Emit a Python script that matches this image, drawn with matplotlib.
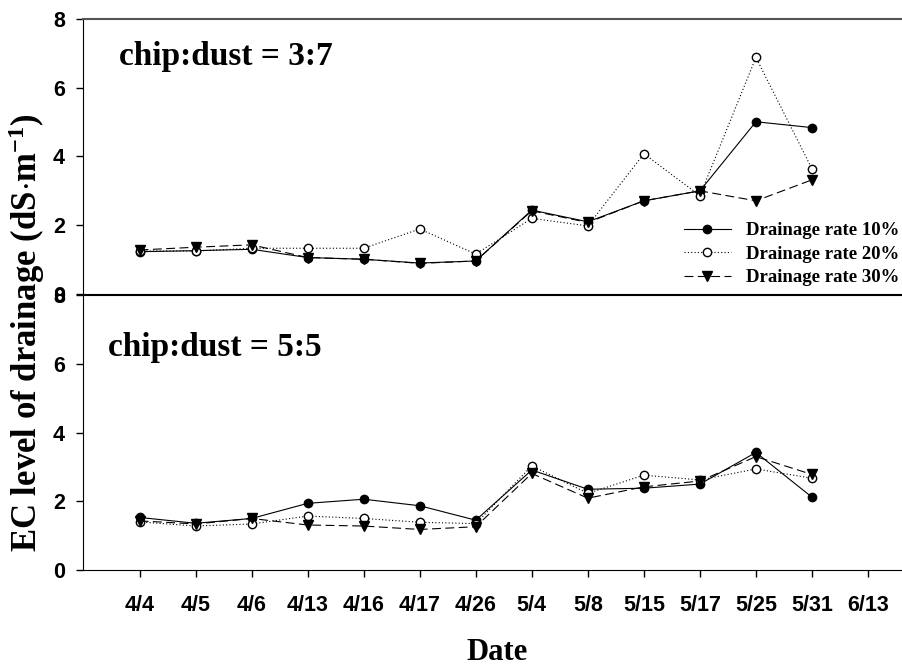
import matplotlib.pyplot as plt

dates = ["4/4", "4/5", "4/6", "4/13", "4/16", "4/17", "4/26",
         "5/4", "5/8", "5/15", "5/17", "5/25", "5/31", "6/13"]

# chip:dust = 3:7
top_10 = [1.23, 1.26, 1.30, 1.06, 1.01, 0.90, 0.96, 2.44, 2.10, 2.71, 3.00, 5.01, 4.84]
top_20 = [1.25, 1.25, 1.33, 1.33, 1.33, 1.89, 1.16, 2.20, 1.98, 4.08, 2.86, 6.88, 3.64]
top_30 = [1.28, 1.36, 1.43, 1.06, 1.01, 0.89, 0.96, 2.42, 2.08, 2.71, 3.00, 2.71, 3.32]

# chip:dust = 5:5
bot_10 = [1.53, 1.36, 1.50, 1.94, 2.06, 1.87, 1.45, 2.91, 2.35, 2.38, 2.50, 3.42, 2.12]
bot_20 = [1.40, 1.28, 1.34, 1.57, 1.50, 1.39, 1.35, 3.03, 2.23, 2.76, 2.62, 2.94, 2.67]
bot_30 = [1.43, 1.34, 1.50, 1.31, 1.28, 1.18, 1.26, 2.81, 2.09, 2.42, 2.59, 3.30, 2.78]

plt.rcParams['mathtext.fontset'] = 'custom'
plt.rcParams['mathtext.rm'] = 'Liberation Serif:bold'
plt.rcParams['mathtext.bf'] = 'Liberation Serif:bold'
plt.rcParams['mathtext.it'] = 'Liberation Serif:bold'

tick_font = dict(family='Liberation Sans', weight='bold', size=15.5)
serif = ['Liberation Serif', 'DejaVu Serif']

fig = plt.figure(figsize=(9.03, 6.66), dpi=100)
ax1 = fig.add_axes([0.0919, 0.5586, 0.95, 0.4129])
ax2 = fig.add_axes([0.0919, 0.1441, 0.95, 0.4129])

x = list(range(len(top_10)))


def draw(ax, s10, s20, s30, title, tx, ty):
    ax.plot(x, s10, color='black', lw=0.8, ls='-', marker='o', ms=6,
            mfc='black', mec='black', label='Drainage rate 10%')
    ax.plot(x, s20, color='black', lw=0.8, ls=(0, (1, 2)), marker='o', ms=6,
            mfc='white', mec='black', label='Drainage rate 20%')
    ax.plot(x, s30, color='black', lw=0.8, ls=(0, (8, 4)), marker='v', ms=7,
            mfc='black', mec='black', label='Drainage rate 30%')
    ax.set_xlim(-1.01, 14.3)
    ax.set_ylim(0, 8)
    ax.set_yticks([0, 2, 4, 6, 8])
    for lbl in ax.get_yticklabels():
        lbl.set_fontproperties(tick_font)
    ax.spines['right'].set_visible(False)
    ax.tick_params(axis='y', direction='out', length=5, width=1, pad=8)
    ax.text(tx, ty, title, transform=ax.transAxes, fontsize=24,
            family=serif, weight='bold', va='center')


draw(ax1, top_10, top_20, top_30, 'chip:dust = 3:7', 0.042, 0.865)
draw(ax2, bot_10, bot_20, bot_30, 'chip:dust = 5:5', 0.029, 0.81)

ax1.spines['top'].set_color('#555555')
ax1.spines['top'].set_linewidth(1.5)

ax1.set_xticks([])
ax2.set_xticks(range(len(dates)))
ax2.set_xticklabels(dates)
for lbl in ax2.get_xticklabels():
    lbl.set_fontproperties(tick_font)
ax2.tick_params(axis='x', direction='out', length=5, width=1, pad=13)

leg = ax1.legend(loc='lower right', bbox_to_anchor=(0.0, 0.0, 0.96, 1), frameon=False,
                 prop=dict(family=serif, weight='bold', size=13.5),
                 handlelength=2.5, handletextpad=0.8, labelspacing=0.35,
                 borderaxespad=0.0)

fig.text(0.551, 0.021, 'Date', ha='center', va='center', fontsize=22,
         family=serif, weight='bold')
fig.text(0.030, 0.50, r'EC level of drainage (dS$\cdot$m$^{-1}$)', ha='center',
         va='center', rotation=90, fontsize=25, family=serif, weight='bold')

fig.savefig('out.png', dpi=100)
